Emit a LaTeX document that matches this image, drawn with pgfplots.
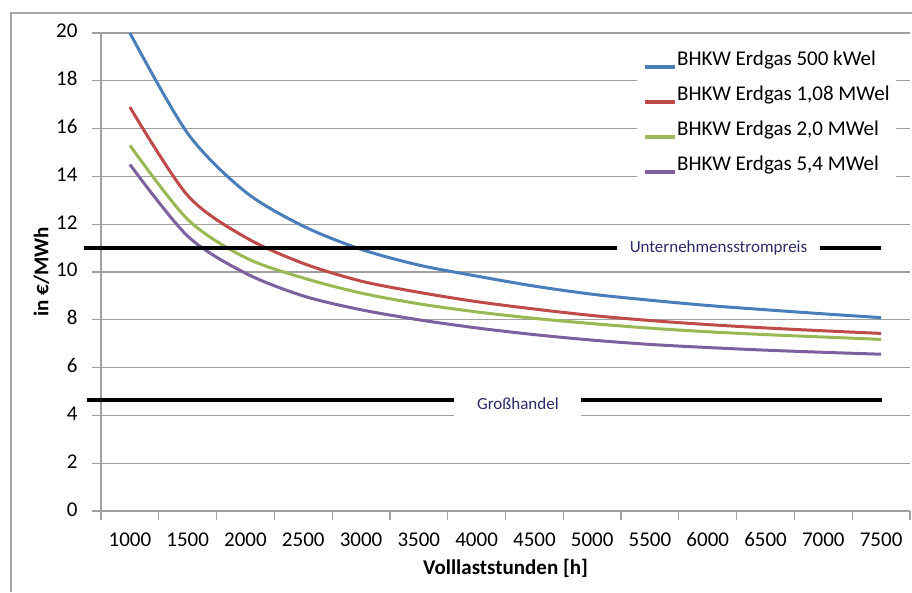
\documentclass[border=0pt]{standalone}
\usepackage{fontspec}
\setmainfont{Carlito}
\usepackage{pgfplots}
\pgfplotsset{compat=1.18}

\definecolor{cblue}{HTML}{4A7EBB}
\definecolor{cred}{HTML}{BE4B48}
\definecolor{cgreen}{HTML}{98B954}
\definecolor{cpurple}{HTML}{7D60A0}
\definecolor{gridgray}{HTML}{A0A0A0}
\definecolor{framegray}{HTML}{A6A6A6}
\definecolor{notetext}{HTML}{2B2B6B}

\begin{document}
\begin{tikzpicture}[x=1pt,y=1pt]
\path[use as bounding box] (0,0) rectangle (912,592);
\draw[framegray, line width=1.2pt] (11,0) -- (11,579) -- (912,579);
\begin{axis}[
  at={(101pt,81pt)}, anchor=south west,
  scale only axis, width=809pt, height=478pt,
  xmin=-0.5, xmax=13.5, ymin=0, ymax=20,
  clip=false,
  axis x line*=bottom, axis y line*=left,
  axis line style={gridgray, line width=1.2pt},
  ytick={0,2,...,20},
  ymajorgrids, grid style={gridgray, line width=1.2pt},
  xtick={0,...,13},
  xticklabels={1000,1500,2000,2500,3000,3500,4000,4500,5000,5500,6000,6500,7000,7500},
  minor xtick={-0.5,0.5,...,13.5},
  major x tick style={draw=none},
  tick align=outside,
  major tick length=9pt, minor tick length=9pt,
  tick style={gridgray, line width=1.2pt},
  typeset ticklabels with strut,
  ticklabel style={font=\fontsize{21}{25}\selectfont, text=black},
  xticklabel style={yshift=-5pt},
  yticklabel style={xshift=-11pt},
  xlabel={Volllaststunden [h]},
  ylabel={in €/MWh},
  label style={font=\fontsize{21}{25}\selectfont\bfseries},
  xlabel style={yshift=1pt},
  ylabel style={yshift=0pt},
  /pgf/number format/assume math mode=true,
  legend style={at={(rel axis cs:0.6625,0.975)}, anchor=north west,
    draw=none, fill=white, inner xsep=6pt, inner ysep=4pt,
    font=\fontsize{21}{25}\selectfont,
    row sep=0pt,
    nodes={inner sep=0pt, text height=16pt, text depth=19pt, anchor=west}},
  legend cell align=left,
  legend image code/.code={\draw[line width=4pt] (0pt,0pt) -- (30pt,0pt);},
]
\addplot[cblue, line width=3pt, smooth] coordinates {
 (0,20.0) (1,15.8) (2,13.35) (3,11.92) (4,10.95) (5,10.29) (6,9.83)
 (7,9.41) (8,9.07) (9,8.82) (10,8.60) (11,8.42) (12,8.25) (13,8.09)};
\addlegendentry{BHKW Erdgas 500 kWel}
\addplot[cred, line width=3pt, smooth] coordinates {
 (0,16.9) (1,13.2) (2,11.45) (3,10.36) (4,9.62) (5,9.15) (6,8.76)
 (7,8.45) (8,8.18) (9,7.97) (10,7.80) (11,7.66) (12,7.54) (13,7.43)};
\addlegendentry{BHKW Erdgas 1,08 MWel}
\addplot[cgreen, line width=3pt, smooth] coordinates {
 (0,15.3) (1,12.2) (2,10.6) (3,9.75) (4,9.12) (5,8.67) (6,8.33)
 (7,8.06) (8,7.84) (9,7.65) (10,7.50) (11,7.38) (12,7.28) (13,7.18)};
\addlegendentry{BHKW Erdgas 2,0 MWel}
\addplot[cpurple, line width=3pt, smooth] coordinates {
 (0,14.5) (1,11.5) (2,9.95) (3,9.0) (4,8.42) (5,8.0) (6,7.66)
 (7,7.38) (8,7.15) (9,6.97) (10,6.84) (11,6.73) (12,6.64) (13,6.56)};
\addlegendentry{BHKW Erdgas 5,4 MWel}

% price levels for comparison
\addplot[black, line width=4pt, forget plot] coordinates {(-0.795,11) (12.99,11)};
\addplot[black, line width=4pt, forget plot] coordinates {(-0.74,4.64) (13.02,4.64)};
\node[fill=white, inner sep=0pt, minimum width=203pt, minimum height=20pt,
  text=notetext, font=\fontsize{17}{20}\selectfont] at (axis cs:10.186,11) {Unternehmensstrompreis};
\node[fill=white, inner sep=0pt, minimum width=127pt, minimum height=32pt,
  text=notetext, font=\fontsize{17}{20}\selectfont] at (axis cs:6.714,4.48) {Großhandel};
\end{axis}
\end{tikzpicture}
\end{document}
